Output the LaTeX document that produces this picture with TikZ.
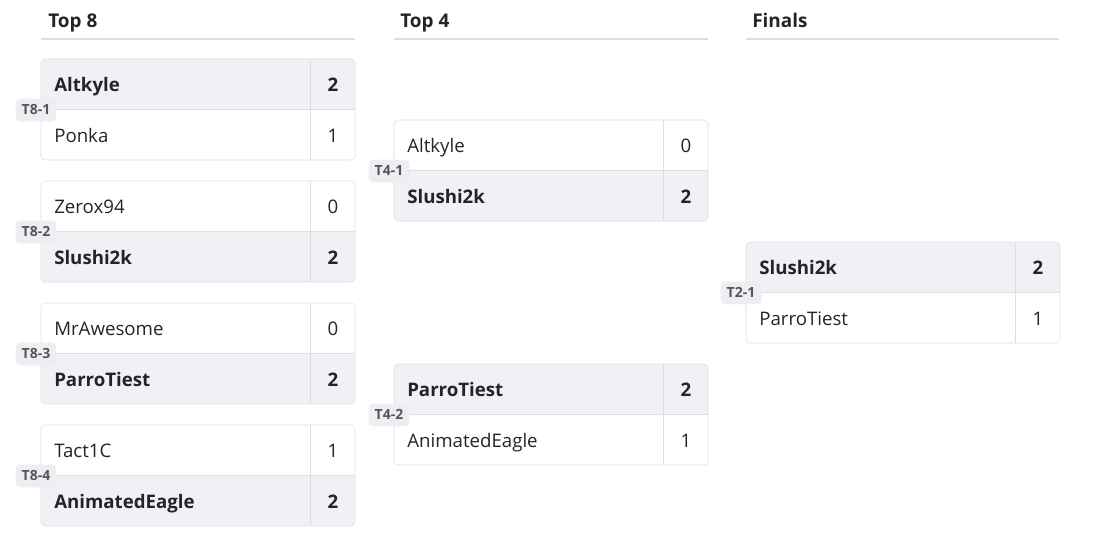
\documentclass[tikz,border=0pt]{standalone}
\usepackage{fontspec}
\setmainfont{Open Sans}
\usetikzlibrary{positioning}

\definecolor{rowwin}{HTML}{F1F0F5}
\definecolor{boxline}{HTML}{DEDDE3}
\definecolor{txt}{HTML}{212529}
\definecolor{badge}{HTML}{EEEDF2}
\definecolor{badgetxt}{HTML}{55555B}

\tikzset{
  player/.style={anchor=west,inner sep=0pt,text=txt,text height=10pt,text depth=3pt,
    font=\fontsize{14}{16}\selectfont},
  score/.style={inner sep=0pt,text=txt,text height=10pt,text depth=3pt,
    font=\fontsize{14}{16}\selectfont},
  win/.style={font=\fontsize{14}{16}\selectfont\bfseries},
  lose/.style={},
  tag/.style={fill=badge,text=badgetxt,rounded corners=3pt,inner xsep=4.5pt,
    text height=7.5pt,text depth=1.5pt,minimum height=17pt,inner ysep=0pt,
    font=\fontsize{10.5}{11}\selectfont\bfseries},
  heading/.style={anchor=west,inner sep=0pt,text=txt,text height=10pt,text depth=3pt,
    font=\fontsize{14.2}{16}\selectfont\bfseries},
  rule/.style={draw=boxline,line width=0.8pt}
}

% one match: id, x, y, tag, name 1, score 1, name 2, score 2, winner (1/2)
\newcommand{\matchbox}[9]{%
  \ifnum#9=1 \def\wa{win}\def\wb{lose}\else\def\wa{lose}\def\wb{win}\fi
  \begin{scope}[shift={(#2,#3)}]
    \begin{scope}
      \clip[rounded corners=3pt] (0,0) rectangle (314,101);
      \ifnum#9=1 \fill[rowwin] (0,0) rectangle (314,50.5);
      \else \fill[rowwin] (0,50.5) rectangle (314,101);\fi
    \end{scope}
    \draw[boxline,rounded corners=3pt] (0,0) rectangle (314,101);
    \draw[boxline] (0,50.5) -- (314,50.5);
    \draw[boxline] (269.5,0) -- (269.5,101);
    \node[player,\wa] (#1-a) at (13,28) {#5};
    \node[score,\wa] (#1-as) at (292,28) {#6};
    \node[player,\wb] (#1-b) at (13,78.5) {#7};
    \node[score,\wb] (#1-bs) at (292,78.5) {#8};
    \node[tag] (#1-tag) at (-5,51) {#4};
  \end{scope}
}

\begin{document}
\begin{tikzpicture}[x=0.75pt,y=-0.75pt]
  \useasboundingbox (0,0) rectangle (1099,546);

  % round headings
  \node[heading] (top8) at (48,23) {Top 8};
  \draw[rule] (41,39) -- (355,39);
  \node[heading] (top4) at (400,23) {Top 4};
  \draw[rule] (394,39) -- (708,39);
  \node[heading] (finals) at (752,23) {Finals};
  \draw[rule] (746,39) -- (1059,39);

  % top 8
  \matchbox{m81}{41}{59}{T8-1}{Altkyle}{2}{Ponka}{1}{1}
  \matchbox{m82}{41}{181}{T8-2}{Zerox94}{0}{Slushi2k}{2}{2}
  \matchbox{m83}{41}{303}{T8-3}{MrAwesome}{0}{ParroTiest}{2}{2}
  \matchbox{m84}{41}{425}{T8-4}{Tact1C}{1}{AnimatedEagle}{2}{2}

  % top 4
  \matchbox{m41}{394}{120}{T4-1}{Altkyle}{0}{Slushi2k}{2}{2}
  \matchbox{m42}{394}{364}{T4-2}{ParroTiest}{2}{AnimatedEagle}{1}{1}

  % finals
  \matchbox{m21}{746}{242}{T2-1}{Slushi2k}{2}{ParroTiest}{1}{1}
\end{tikzpicture}
\end{document}
